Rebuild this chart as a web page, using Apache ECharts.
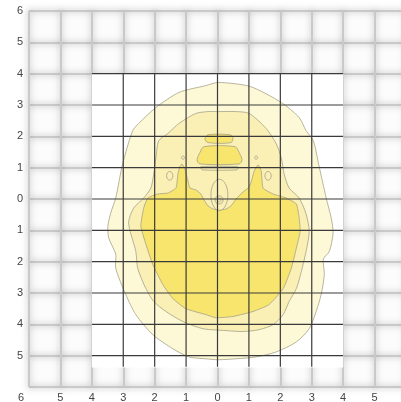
<!DOCTYPE html>
<html><head><meta charset="utf-8">
<script src="https://cdn.jsdelivr.net/npm/echarts@6/dist/echarts.min.js"></script>
<style>html,body{margin:0;padding:0;background:#fff}#c{width:401px;height:402px}</style>
</head><body><div id="c"></div>
<script>
// ---- data ----
const axisMin = -6, axisMax = 6;
const darkXLines = [-3, -2, -1, 0, 1, 2, 3];
const darkYLines = [4, 3, 2, 1, 0, -1, -2, -3, -4, -5];

const outerContour = [[0.02,3.72],[1.04,3.59],[2.03,3.08],[2.60,2.60],[2.82,2.18],[3.05,1.86],[3.23,1.06],[3.46,0.03],[3.62,-0.61],[3.68,-1.09],[3.56,-1.67],[3.37,-1.92],[3.40,-2.41],[3.30,-3.05],[3.14,-3.59],[2.92,-4.14],[2.51,-4.56],[1.87,-4.88],[1.23,-5.04],[0.59,-5.10],[0.02,-5.13],[-0.37,-5.10],[-0.91,-5.04],[-1.42,-4.78],[-2.06,-4.33],[-2.60,-3.69],[-2.92,-3.05],[-3.24,-2.21],[-3.24,-1.76],[-3.46,-1.25],[-3.49,-0.87],[-3.40,-0.45],[-3.24,0.03],[-3.02,1.12],[-2.70,2.18],[-2.51,2.41],[-1.96,2.92],[-1.23,3.40],[-0.37,3.62]];

const middleContour = [[0.02,2.79],[0.59,2.79],[1.01,2.73],[1.55,2.25],[1.87,1.76],[2.03,1.32],[2.12,0.80],[2.28,0.35],[2.60,0.03],[2.82,-0.48],[2.92,-1.03],[2.82,-1.67],[2.67,-2.31],[2.51,-2.86],[2.28,-3.27],[2.09,-3.69],[1.77,-4.01],[1.32,-4.17],[0.81,-4.23],[0.27,-4.20],[-0.46,-4.14],[-1.10,-3.91],[-1.64,-3.59],[-2.03,-3.27],[-2.28,-2.86],[-2.54,-2.21],[-2.60,-1.67],[-2.83,-0.77],[-2.67,-0.29],[-2.35,0.03],[-2.12,0.35],[-2.03,0.80],[-1.96,1.32],[-1.87,1.86],[-1.58,2.09],[-1.23,2.41],[-0.69,2.73],[-0.30,2.79]];

const innerContour = [[-1.13,1.12],[-1.04,0.96],[-0.94,0.58],[-0.88,0.35],[-0.69,0.29],[-0.53,0.16],[-0.43,-0.03],[-0.30,-0.22],[-0.14,-0.32],[0.05,-0.35],[0.27,-0.32],[0.43,-0.22],[0.59,0.00],[0.81,0.22],[1.01,0.38],[1.10,0.64],[1.17,0.90],[1.29,1.09],[1.39,0.90],[1.45,0.35],[1.77,0.16],[2.19,0.03],[2.51,-0.16],[2.60,-0.61],[2.63,-1.03],[2.51,-1.57],[2.35,-2.21],[2.09,-2.86],[1.64,-3.37],[1.13,-3.59],[0.49,-3.75],[-0.05,-3.79],[-0.37,-3.69],[-1.01,-3.50],[-1.42,-3.18],[-1.74,-2.73],[-2.06,-2.09],[-2.28,-1.44],[-2.44,-0.87],[-2.35,-0.29],[-2.22,0.03],[-1.90,0.16],[-1.58,0.19],[-1.32,0.35],[-1.26,0.80],[-1.20,1.03]];

const capShape = [[-0.30,2.05],[0.40,2.05],[0.49,1.96],[0.43,1.80],[-0.30,1.80],[-0.40,1.92]];
const trapezoidShape = [[-0.43,1.67],[0.56,1.67],[0.69,1.48],[0.78,1.25],[0.69,1.12],[-0.56,1.12],[-0.65,1.25],[-0.56,1.48]];
const sliverShape = [[-0.53,1.03],[0.65,1.03],[0.62,0.93],[-0.49,0.93]];

// ellipses: [cx, cy, rx, ry]
const ellipses = [[0.06,0.13,0.27,0.50],[0.05,-0.03,0.13,0.13],[0.05,-0.03,0.06,0.06],[-1.52,0.74,0.10,0.14],[1.61,0.74,0.10,0.14],[-1.10,1.32,0.05,0.05],[1.23,1.32,0.05,0.05]];

// ---- styles ----
const PALE = '#fdf8d6', MID = '#faefb5', BRIGHT = '#f7e56e', EDGE = '#a6a28a';

function polySeries(points, fill, smooth) {
  return {
    type: 'custom', coordinateSystem: 'cartesian2d', silent: true, data: [[0, 0]],
    renderItem: function (params, api) {
      return { type: 'polygon', shape: { points: points.map(p => api.coord(p)), smooth: smooth },
        style: { fill: fill, stroke: EDGE, lineWidth: 0.8 } };
    }
  };
}

const whiteAreaSeries = {
  type: 'custom', coordinateSystem: 'cartesian2d', silent: true, data: [[0, 0]],
  renderItem: function (params, api) {
    const a = api.coord([-4, 4]), b = api.coord([4, -5.38]);
    return { type: 'rect', shape: { x: a[0], y: a[1], width: b[0] - a[0], height: b[1] - a[1] },
      style: { fill: '#ffffff' } };
  }
};

const ellipseSeries = {
  type: 'custom', coordinateSystem: 'cartesian2d', silent: true, data: [[0, 0]],
  renderItem: function (params, api) {
    return { type: 'group', children: ellipses.map(e => {
      const c = api.coord([e[0], e[1]]), s = api.size([e[2], e[3]]);
      return { type: 'ellipse', shape: { cx: c[0], cy: c[1], rx: s[0], ry: s[1] },
        style: { fill: 'rgba(250,239,179,0.55)', stroke: EDGE, lineWidth: 0.8 } };
    }) };
  }
};

const darkGridSeries = {
  type: 'custom', coordinateSystem: 'cartesian2d', silent: true, data: [[0, 0]], z: 5,
  renderItem: function (params, api) {
    const kids = [];
    darkXLines.forEach(x => {
      const p1 = api.coord([x, 4]), p2 = api.coord([x, -5.35]);
      kids.push({ type: 'line', shape: { x1: p1[0], y1: p1[1], x2: p2[0], y2: p2[1] }, style: { stroke: '#3a3a3a', lineWidth: 1.2 } });
    });
    darkYLines.forEach(y => {
      const p1 = api.coord([-4, y]), p2 = api.coord([4, y]);
      kids.push({ type: 'line', shape: { x1: p1[0], y1: p1[1], x2: p2[0], y2: p2[1] }, style: { stroke: '#3a3a3a', lineWidth: 1.2 } });
    });
    return { type: 'group', children: kids };
  }
};

const blurLine = { color: '#c9c9c9', width: 2, shadowBlur: 6, shadowColor: 'rgba(140,140,140,0.7)' };
const labelStyle = { color: '#444', fontSize: 11, fontFamily: 'Liberation Sans, Arial, sans-serif' };

const chart = echarts.init(document.getElementById('c'), null, { renderer: 'canvas' });
chart.setOption({
  animation: false,
  backgroundColor: '#ffffff',
  grid: { left: 29, right: -5, top: 11, bottom: 15, containLabel: false, outerBoundsMode: 'none',
    show: true, backgroundColor: '#fcfcfc', borderWidth: 0 },
  xAxis: {
    type: 'value', min: axisMin, max: axisMax, interval: 1,
    axisLine: { show: false }, axisTick: { show: false },
    splitLine: { show: true, lineStyle: blurLine },
    axisLabel: Object.assign({ margin: 5, formatter: v => v === -6 ? '{l|6}' : String(Math.abs(v)),
      rich: { l: Object.assign({ padding: [0, 16, 0, 0] }, labelStyle) } }, labelStyle)
  },
  yAxis: {
    type: 'value', min: axisMin, max: axisMax, interval: 1,
    axisLine: { show: false }, axisTick: { show: false },
    splitLine: { show: true, lineStyle: blurLine },
    axisLabel: Object.assign({ margin: 6, formatter: v => v === -6 ? '' : String(Math.abs(v)) }, labelStyle)
  },
  series: [
    whiteAreaSeries,
    polySeries(outerContour, PALE, 0.25),
    polySeries(middleContour, MID, 0.25),
    polySeries(innerContour, BRIGHT, 0.15),
    polySeries(capShape, BRIGHT, 0.3),
    polySeries(trapezoidShape, BRIGHT, 0.3),
    polySeries(sliverShape, MID, 0.2),
    ellipseSeries,
    darkGridSeries
  ]
});
</script></body></html>
